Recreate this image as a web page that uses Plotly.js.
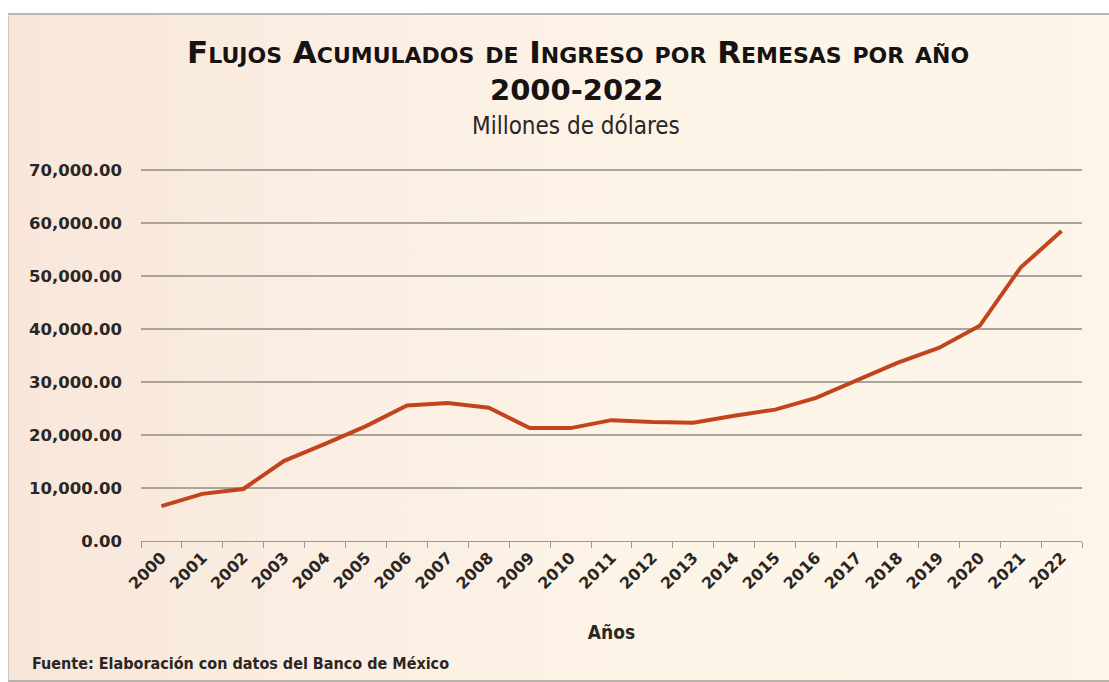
<!DOCTYPE html>
<html>
<head>
<meta charset="utf-8">
<script src="https://cdn.plot.ly/plotly-3.0.1.min.js"></script>
<style>
  html, body { margin:0; padding:0; background:#ffffff; }
  #frame { position:absolute; left:0; top:0; width:1109px; height:682px; overflow:hidden; }
  #bg { position:absolute; left:8px; top:13px; width:1105px; height:665px;
        background:linear-gradient(90deg,#f8e6da 0%,#fbeee2 30%,#fdf4e8 60%,#fdf5ea 100%);
        border-top:2px solid #bdb6ae; border-left:1px solid #cfc7bf; border-bottom:2px solid #b9b2aa; }
  #chart { position:absolute; left:0; top:0; width:1109px; height:682px; }
</style>
</head>
<body>
<div id="frame">
  <div id="bg"></div>
  <div id="chart"></div>
</div>
<script>
const years = ["2000","2001","2002","2003","2004","2005","2006","2007","2008","2009","2010","2011",
               "2012","2013","2014","2015","2016","2017","2018","2019","2020","2021","2022"];
const remesas = [6573, 8895, 9814, 15139, 18332, 21688, 25567, 26059, 25145, 21306, 21304, 22803,
                 22438, 22303, 23647, 24785, 26993, 30291, 33677, 36439, 40605, 51594, 58497];
const yTicks = [0, 10000, 20000, 30000, 40000, 50000, 60000, 70000];

const titleText = "Flujos Acumulados de Ingreso por Remesas por año";
const titleYears = "2000-2022";
const subtitleText = "Millones de dólares";
const xTitle = "Años";
const sourceText = "Fuente: Elaboración con datos del Banco de México";

const fontMain = "DejaVu Sans, sans-serif";
const fontCond = "DejaVu Sans Condensed, DejaVu Sans, sans-serif";

const trace = {
  x: years,
  y: remesas,
  type: "scatter",
  mode: "lines",
  line: { color: "#c2441d", width: 4, shape: "linear" },
  hoverinfo: "x+y"
};

// plot area: x 141..1082, y 169..541
const PL = 141, PR = 1082, PT = 169, PB = 541;
const px = v => (v - PL) / (PR - PL);
const py = v => (PB - v) / (PB - PT);

const layout = {
  width: 1109,
  height: 682,
  paper_bgcolor: "rgba(0,0,0,0)",
  plot_bgcolor: "rgba(0,0,0,0)",
  margin: { l: PL, r: 1109 - PR, t: PT, b: 682 - PB },
  showlegend: false,
  xaxis: {
    type: "category",
    range: [-0.5, 22.5],
    showgrid: false,
    showline: true,
    linecolor: "#9c978f",
    linewidth: 1,
    ticks: "outside",
    tickson: "boundaries",
    ticklen: 6,
    tickcolor: "#9c978f",
    tickangle: -45,
    tickfont: { family: fontMain, size: 16, color: "#2a2624", weight: "bold" },
    title: { text: xTitle, font: { family: fontCond, size: 19, color: "#2a2624", weight: "bold" }, standoff: 33 },
    fixedrange: true
  },
  yaxis: {
    range: [0, 70200],
    tickvals: yTicks,
    tickformat: ",.2f",
    showgrid: true,
    gridcolor: "#a9a39b",
    gridwidth: 1.2,
    zeroline: false,
    showline: false,
    ticks: "",
    ticklabelstandoff: 18,
    tickfont: { family: fontMain, size: 16.5, color: "#2a2624", weight: "bold" },
    fixedrange: true
  },
  annotations: [
    { text: titleText, xref: "paper", yref: "paper", x: px(578), y: py(52),
      xanchor: "center", yanchor: "middle", showarrow: false,
      font: { family: fontMain, size: 31, color: "#161312", weight: "bold", variant: "small-caps" } },
    { text: titleYears, xref: "paper", yref: "paper", x: px(576), y: py(90),
      xanchor: "center", yanchor: "middle", showarrow: false,
      font: { family: fontMain, size: 29, color: "#161312", weight: "bold" } },
    { text: subtitleText, xref: "paper", yref: "paper", x: px(576), y: py(126),
      xanchor: "center", yanchor: "middle", showarrow: false,
      font: { family: fontCond, size: 24, color: "#2a2624" } },
    { text: sourceText, xref: "paper", yref: "paper", x: px(30), y: py(663),
      xanchor: "left", yanchor: "middle", showarrow: false,
      font: { family: fontCond, size: 16, color: "#2a2624", weight: "bold" } }
  ]
};

Plotly.newPlot("chart", [trace], layout, { displayModeBar: false, staticPlot: true });
</script>
</body>
</html>
